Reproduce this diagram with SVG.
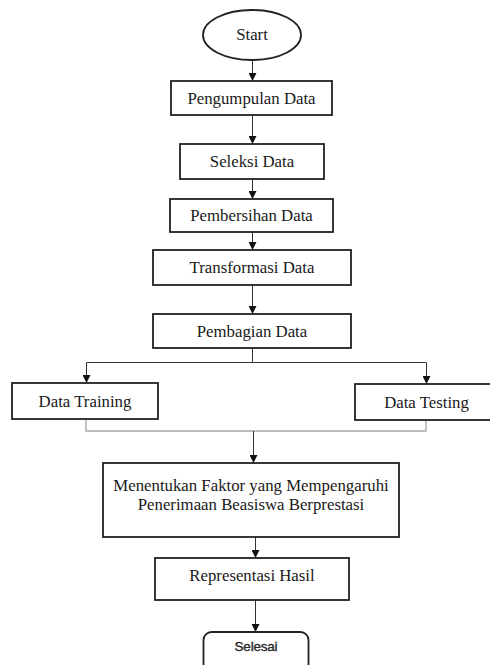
<svg xmlns="http://www.w3.org/2000/svg" width="490" height="665" viewBox="0 0 490 665">
  <style>
    .box { fill: #ffffff; stroke: #222222; stroke-width: 1.8; }
    .lbl { font-family: "Liberation Serif", "Times New Roman", serif; font-size: 16.8px; fill: #1a1a1a; text-anchor: middle; }
    .sans { font-family: "Liberation Sans", Arial, sans-serif; font-size: 13.5px; fill: #262626; text-anchor: middle; stroke: #262626; stroke-width: 0.35; letter-spacing: -0.2px; }
    .flow { fill: none; stroke: #333333; stroke-width: 1; }
    .join { fill: none; stroke: #a8a8a8; stroke-width: 1.4; }
  </style>
  <defs>
    <marker id="arrow" viewBox="0 0 10 10" refX="10" refY="5" markerWidth="8" markerHeight="8" markerUnits="userSpaceOnUse" orient="auto">
      <path d="M0,0 L10,5 L0,10 z" fill="#111111"/>
    </marker>
  </defs>
  <rect width="490" height="665" fill="#ffffff"/>

  <g id="connectors">
    <line class="flow" x1="252.5" y1="60" x2="252.5" y2="81" marker-end="url(#arrow)"/>
    <line class="flow" x1="252.5" y1="115" x2="252.5" y2="144" marker-end="url(#arrow)"/>
    <line class="flow" x1="252.5" y1="179" x2="252.5" y2="199" marker-end="url(#arrow)"/>
    <line class="flow" x1="252.5" y1="232" x2="252.5" y2="250" marker-end="url(#arrow)"/>
    <line class="flow" x1="252.5" y1="285" x2="252.5" y2="314" marker-end="url(#arrow)"/>
    <line class="flow" x1="252.5" y1="348" x2="252.5" y2="362.5"/>
    <line class="flow" x1="86.5" y1="362.5" x2="426.5" y2="362.5"/>
    <line class="flow" x1="86.5" y1="362.5" x2="86.5" y2="383" marker-end="url(#arrow)"/>
    <line class="flow" x1="426.5" y1="362.5" x2="426.5" y2="384" marker-end="url(#arrow)"/>
    <polyline class="join" points="86,419 86,431 426,431 426,420"/>
    <line class="flow" x1="253.5" y1="431" x2="253.5" y2="463" marker-end="url(#arrow)"/>
    <line class="flow" x1="255.5" y1="537" x2="255.5" y2="558" marker-end="url(#arrow)"/>
    <line class="flow" x1="255.5" y1="600" x2="255.5" y2="632" marker-end="url(#arrow)"/>
  </g>

  <g id="start">
    <ellipse class="box" cx="252" cy="35" rx="49" ry="25"/>
    <text class="lbl" x="252" y="40">Start</text>
  </g>
  <g id="pengumpulan">
    <rect class="box" x="171" y="81" width="161" height="34"/>
    <text class="lbl" x="251.5" y="103.5">Pengumpulan Data</text>
  </g>
  <g id="seleksi">
    <rect class="box" x="180" y="144" width="144" height="35"/>
    <text class="lbl" x="252" y="167">Seleksi Data</text>
  </g>
  <g id="pembersihan">
    <rect class="box" x="170" y="199" width="163" height="33"/>
    <text class="lbl" x="251.5" y="221">Pembersihan Data</text>
  </g>
  <g id="transformasi">
    <rect class="box" x="153" y="250" width="198" height="35"/>
    <text class="lbl" x="252" y="273">Transformasi Data</text>
  </g>
  <g id="pembagian">
    <rect class="box" x="153" y="314" width="198" height="34"/>
    <text class="lbl" x="252" y="336.5">Pembagian Data</text>
  </g>
  <g id="training">
    <rect class="box" x="12" y="383" width="146" height="36"/>
    <text class="lbl" x="85" y="406.5">Data Training</text>
  </g>
  <g id="testing">
    <rect class="box" x="355" y="384" width="142" height="36"/>
    <text class="lbl" x="426.5" y="407.5">Data Testing</text>
  </g>
  <g id="faktor">
    <rect class="box" x="103" y="463" width="296" height="74"/>
    <text class="lbl" x="251" y="491">Menentukan Faktor yang Mempengaruhi</text>
    <text class="lbl" x="251" y="510">Penerimaan Beasiswa Berprestasi</text>
  </g>
  <g id="representasi">
    <rect class="box" x="155" y="558" width="194" height="42"/>
    <text class="lbl" x="252" y="581">Representasi Hasil</text>
  </g>
  <g id="selesai">
    <rect class="box" x="203.5" y="632" width="105" height="45" rx="8" ry="8"/>
    <text class="sans" x="256" y="651">Selesai</text>
  </g>
</svg>
